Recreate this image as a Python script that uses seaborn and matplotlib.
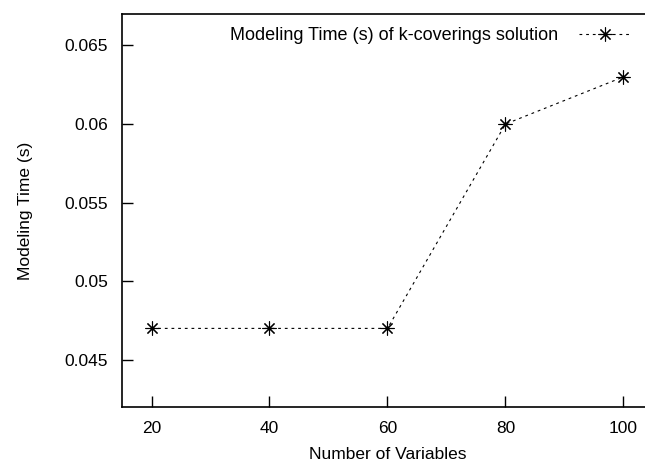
"""Modeling time of the k-coverings solution versus number of variables."""

import matplotlib

matplotlib.use("Agg")
import matplotlib.pyplot as plt
import pandas as pd
import seaborn as sns

num_variables = [20, 40, 60, 80, 100]
modeling_time = [0.047, 0.047, 0.047, 0.060, 0.063]
series_label = "Modeling Time (s) of k-coverings solution"

x_ticks = [20, 40, 60, 80, 100]
y_ticks = [0.045, 0.05, 0.055, 0.06, 0.065]
y_tick_labels = ["0.045", "0.05", "0.055", "0.06", "0.065"]

FONT = 12.5


def main():
    sns.set_style("ticks")
    plt.rcParams["font.family"] = ["Liberation Sans", "DejaVu Sans"]
    plt.rcParams["xtick.direction"] = "in"
    plt.rcParams["ytick.direction"] = "in"
    plt.rcParams["text.color"] = "black"
    plt.rcParams["axes.labelcolor"] = "black"
    plt.rcParams["xtick.color"] = "black"
    plt.rcParams["ytick.color"] = "black"

    df = pd.DataFrame({"vars": num_variables, "time": modeling_time})

    fig = plt.figure(figsize=(6.45, 4.66), dpi=100)
    ax = fig.add_axes([122 / 645, 59 / 466, 531 / 645, 393 / 466])

    sns.lineplot(
        data=df,
        x="vars",
        y="time",
        ax=ax,
        color="black",
        linewidth=0.8,
        linestyle=(0, (2.5, 3.5)),
        marker=(8, 2, 0),
        markersize=10,
        markeredgewidth=0.8,
        markeredgecolor="black",
        label=series_label,
    )

    ax.set_xlim(15, 105)
    ax.set_ylim(0.042, 0.067)
    ax.set_xticks(x_ticks)
    ax.set_yticks(y_ticks)
    ax.set_yticklabels(y_tick_labels)
    ax.tick_params(axis="both", length=8, width=1, labelsize=FONT, pad=10)
    ax.set_xlabel("Number of Variables", fontsize=FONT, labelpad=8)
    ax.set_ylabel("Modeling Time (s)", fontsize=FONT, labelpad=23)
    for side in ["left", "bottom", "top", "right"]:
        ax.spines[side].set_linewidth(1.2)
        ax.spines[side].set_color("black")

    ax.legend(
        loc="upper right",
        frameon=False,
        markerfirst=False,
        fontsize=13,
        handlelength=2.8,
        handletextpad=1.2,
        borderaxespad=0,
        borderpad=0,
    )
    leg = ax.get_legend()
    leg.set_bbox_to_anchor((630 / 645, 439 / 466), transform=fig.transFigure)

    fig.savefig("out.png", dpi=100)
    plt.close(fig)


if __name__ == "__main__":
    main()
